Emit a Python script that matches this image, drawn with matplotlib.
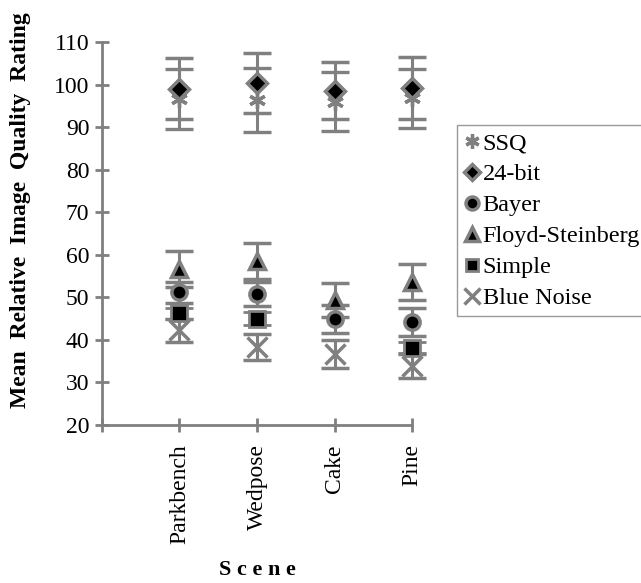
import numpy as np
import matplotlib
matplotlib.use("Agg")
import matplotlib.pyplot as plt

scenes = ["Parkbench", "Wedpose", "Cake", "Pine"]
series_names = ["SSQ", "24-bit", "Bayer", "Floyd-Steinberg", "Simple", "Blue Noise"]

ssq = [96.6, 96.4, 96.0, 96.8]
ssq_err = [7.0, 7.5, 6.9, 6.9]
bit24 = [99.0, 100.3, 98.5, 99.2]
bit24_err = [7.2, 7.0, 6.7, 7.3]
bayer = [51.2, 50.8, 45.0, 44.3]
bayer_err = [2.5, 2.9, 3.3, 3.3]
floyd = [56.7, 58.5, 49.4, 53.6]
floyd_err = [4.2, 4.2, 4.0, 4.3]
simple = [46.3, 45.0, np.nan, 38.2]
simple_err = [1.3, 1.5, np.nan, 1.2]
blue = [42.3, 38.3, 36.6, 33.8]
blue_err = [2.7, 3.0, 3.3, 2.8]

plt.rcParams['font.family'] = ['Liberation Serif', 'DejaVu Serif']

GRAY = "#808080"
fig = plt.figure(figsize=(6.41, 5.83), dpi=100)
ax = fig.add_axes([0.159, 0.271, 0.484, 0.657])

x = np.arange(1, len(scenes) + 1)
data = [ssq, bit24, bayer, floyd, simple, blue]
errs = [ssq_err, bit24_err, bayer_err, floyd_err, simple_err, blue_err]
styles = [
    dict(marker=(6, 2, 0), ms=12, mfc=GRAY, mec=GRAY, mew=2.4),
    dict(marker='D', ms=10, mfc='black', mec=GRAY, mew=2.5),
    dict(marker='o', ms=11, mfc='black', mec=GRAY, mew=2.5),
    dict(marker='^', ms=12, mfc='black', mec=GRAY, mew=2.5),
    dict(marker='s', ms=11, mfc='black', mec=GRAY, mew=2.0),
    dict(marker='x', ms=14, mfc=GRAY, mec=GRAY, mew=2.5),
]
for name, y, e, st in zip(series_names, data, errs, styles):
    h = ax.errorbar(x, y, yerr=e, ls='none', ecolor=GRAY, elinewidth=2.2,
                    capsize=10, capthick=2.2, label=name, **st)
    for artist in [h[0], *h[1], *h[2]]:
        artist.set_clip_on(False)

ax.set_xlim(0, 4)
ax.set_ylim(20, 110)
ax.set_yticks(np.arange(20, 111, 10))
ax.set_xticks(np.arange(0, len(scenes) + 1))
ax.set_xticklabels([""] + scenes, rotation=90)
for s in ['top', 'right']:
    ax.spines[s].set_visible(False)
for s in ['left', 'bottom']:
    ax.spines[s].set_color(GRAY)
    ax.spines[s].set_linewidth(2)
ax.tick_params(direction='inout', length=10, width=2, color=GRAY,
               labelsize=17, pad=4)
ax.tick_params(axis='x', pad=9)

fig.text(257 / 641, 1 - 570 / 583, "S c e n e", fontsize=16, fontweight='bold',
         ha='center', va='center')
fig.text(0.032, 1 - 210 / 583, "Mean  Relative  Image  Quality  Rating", rotation=90,
         fontsize=17, fontweight='bold', ha='center', va='center')

leg_handles = [plt.Line2D([], [], ls='none', **st) for st in styles]
fig.legend(leg_handles, series_names, loc='upper left',
           bbox_to_anchor=(0.713, 0.786), fontsize=17.5, frameon=True,
           fancybox=False, edgecolor=GRAY, handlelength=0.6,
           handletextpad=0.15, borderpad=0.3, labelspacing=0.37,
           borderaxespad=0, markerscale=0.85)

fig.savefig("out.png", dpi=100)
